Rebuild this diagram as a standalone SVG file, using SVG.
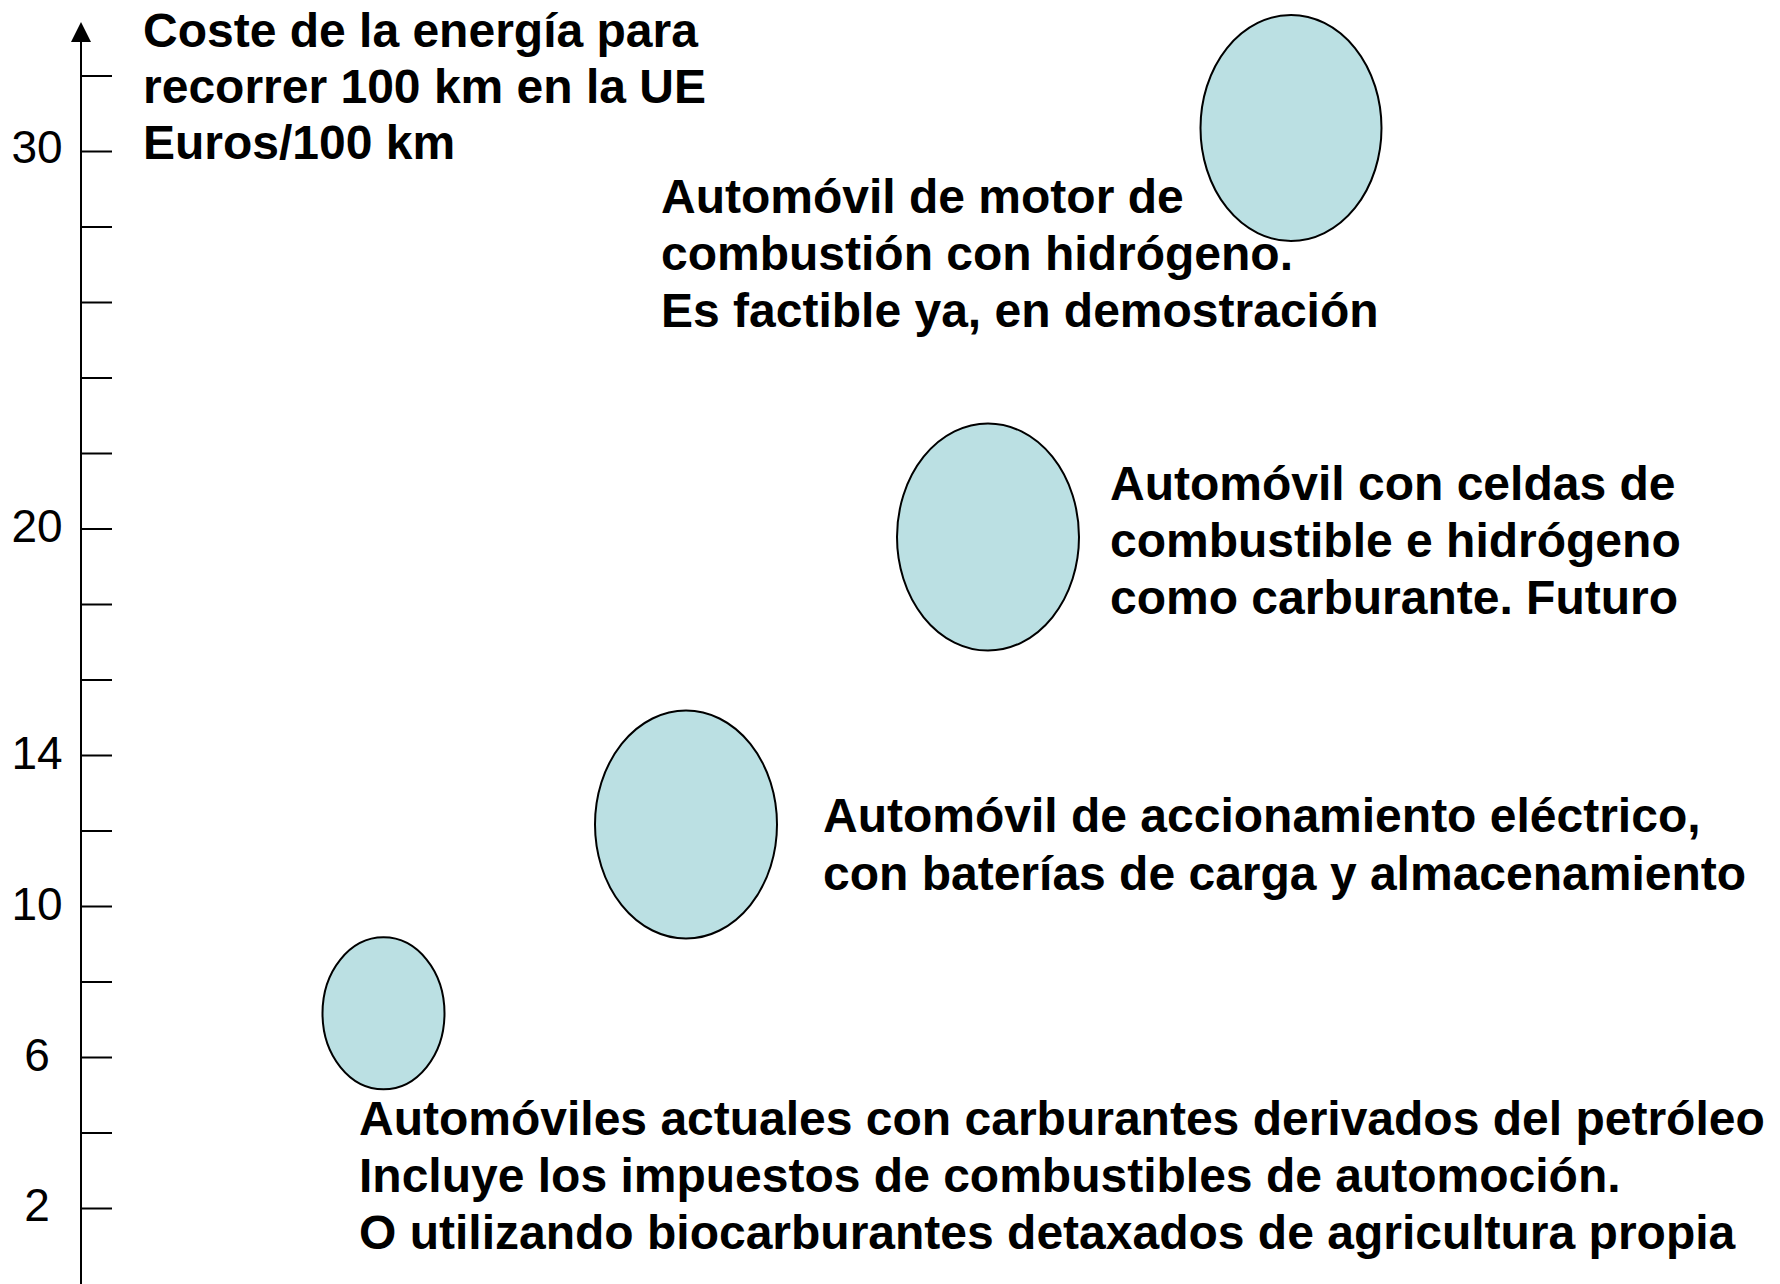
<svg xmlns="http://www.w3.org/2000/svg" width="1780" height="1284" viewBox="0 0 1780 1284">
  <style>
    .lbl { font-family: "Liberation Sans", Arial, sans-serif; font-weight: bold; font-size: 48px; fill: #000; }
    .num { font-family: "Liberation Sans", Arial, sans-serif; font-size: 46px; fill: #000; text-anchor: middle; }
    .bub { fill: #BBE0E3; stroke: #000; stroke-width: 2; }
    .tick { stroke: #000; stroke-width: 2; }
  </style>
  <rect width="1780" height="1284" fill="#fff"/>

  <g id="connectors">
    <line x1="81" y1="40" x2="81" y2="1284" stroke="#000" stroke-width="2"/>
    <polygon points="81,22 71,42 91,42" fill="#000"/>
  </g>

  <g id="axis-ticks">
    <line class="tick" x1="81" y1="76" x2="112" y2="76"/>
    <line class="tick" x1="81" y1="151.5" x2="112" y2="151.5"/>
    <line class="tick" x1="81" y1="227" x2="112" y2="227"/>
    <line class="tick" x1="81" y1="302.5" x2="112" y2="302.5"/>
    <line class="tick" x1="81" y1="378" x2="112" y2="378"/>
    <line class="tick" x1="81" y1="453.5" x2="112" y2="453.5"/>
    <line class="tick" x1="81" y1="529" x2="112" y2="529"/>
    <line class="tick" x1="81" y1="604.5" x2="112" y2="604.5"/>
    <line class="tick" x1="81" y1="680" x2="112" y2="680"/>
    <line class="tick" x1="81" y1="755.5" x2="112" y2="755.5"/>
    <line class="tick" x1="81" y1="831" x2="112" y2="831"/>
    <line class="tick" x1="81" y1="906.5" x2="112" y2="906.5"/>
    <line class="tick" x1="81" y1="982" x2="112" y2="982"/>
    <line class="tick" x1="81" y1="1057.5" x2="112" y2="1057.5"/>
    <line class="tick" x1="81" y1="1133" x2="112" y2="1133"/>
    <line class="tick" x1="81" y1="1208.5" x2="112" y2="1208.5"/>
  </g>

  <g id="axis-labels">
    <text class="num" x="37" y="163">30</text>
    <text class="num" x="37" y="542">20</text>
    <text class="num" x="37" y="769">14</text>
    <text class="num" x="37" y="920">10</text>
    <text class="num" x="37" y="1071">6</text>
    <text class="num" x="37" y="1221">2</text>
  </g>

  <g id="title">
    <text class="lbl" x="143" y="47">Coste de la energía para</text>
    <text class="lbl" x="143" y="103">recorrer 100 km en la UE</text>
    <text class="lbl" x="143" y="159">Euros/100 km</text>
  </g>

  <g id="node-hidrogeno-combustion">
    <ellipse class="bub" cx="1291" cy="128" rx="90.5" ry="113"/>
    <text class="lbl" x="661" y="213">Automóvil de motor de</text>
    <text class="lbl" x="661" y="270">combustión con hidrógeno.</text>
    <text class="lbl" x="661" y="327">Es factible ya, en demostración</text>
  </g>

  <g id="node-celdas">
    <ellipse class="bub" cx="988" cy="537" rx="91" ry="113.5"/>
    <text class="lbl" x="1110" y="500">Automóvil con celdas de</text>
    <text class="lbl" x="1110" y="557">combustible e hidrógeno</text>
    <text class="lbl" x="1110" y="614">como carburante. Futuro</text>
  </g>

  <g id="node-electrico">
    <ellipse class="bub" cx="686" cy="824.5" rx="91" ry="114"/>
    <text class="lbl" x="823" y="832">Automóvil de accionamiento eléctrico,</text>
    <text class="lbl" x="823" y="890">con baterías de carga y almacenamiento</text>
  </g>

  <g id="node-actuales">
    <ellipse class="bub" cx="383.5" cy="1013.3" rx="61" ry="76"/>
    <text class="lbl" x="359" y="1135">Automóviles actuales con carburantes derivados del petróleo</text>
    <text class="lbl" x="359" y="1192">Incluye los impuestos de combustibles de automoción.</text>
    <text class="lbl" x="359" y="1249">O utilizando biocarburantes detaxados de agricultura propia</text>
  </g>
</svg>
